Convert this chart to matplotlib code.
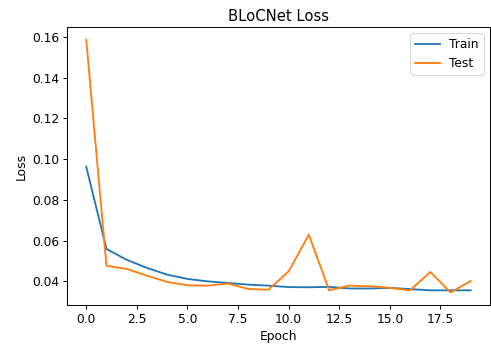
import numpy as np
import matplotlib
matplotlib.use("Agg")
import matplotlib.pyplot as plt

# valores
epocas = np.arange(20)
loss_treino = [0.0963, 0.0559, 0.0506, 0.0466, 0.0433, 0.0412, 0.0400, 0.0392, 0.0384, 0.0379,
               0.0372, 0.0371, 0.0373, 0.0365, 0.0365, 0.0368, 0.0362, 0.0356, 0.0356, 0.0356]
loss_teste = [0.1587, 0.0477, 0.0461, 0.0428, 0.0397, 0.0381, 0.0379, 0.0389, 0.0363, 0.0359,
              0.0449, 0.0629, 0.0356, 0.0379, 0.0376, 0.0368, 0.0356, 0.0446, 0.0346, 0.0402]

esc = 1.23  # a figura original foi salva com dpi maior que 72
plt.rcParams.update({
    "font.size": 10 * esc,
    "axes.linewidth": 0.8 * esc,
    "xtick.major.size": 3.5 * esc,
    "ytick.major.size": 3.5 * esc,
    "xtick.major.width": 0.8 * esc,
    "ytick.major.width": 0.8 * esc,
})

fig = plt.figure(figsize=(491 / 72, 349 / 72), dpi=72)
ax = fig.add_axes([67 / 491, 1 - 305 / 349, 423 / 491, 278 / 349])

ax.plot(epocas, loss_treino, label="Train", lw=1.5 * esc)
ax.plot(epocas, loss_teste, label="Test", lw=1.5 * esc)
ax.set_title("BLoCNet Loss", fontsize=12 * esc)
ax.set_xlabel("Epoch")
ax.set_ylabel("Loss")
ax.legend()

fig.savefig("out.png", dpi=72)
